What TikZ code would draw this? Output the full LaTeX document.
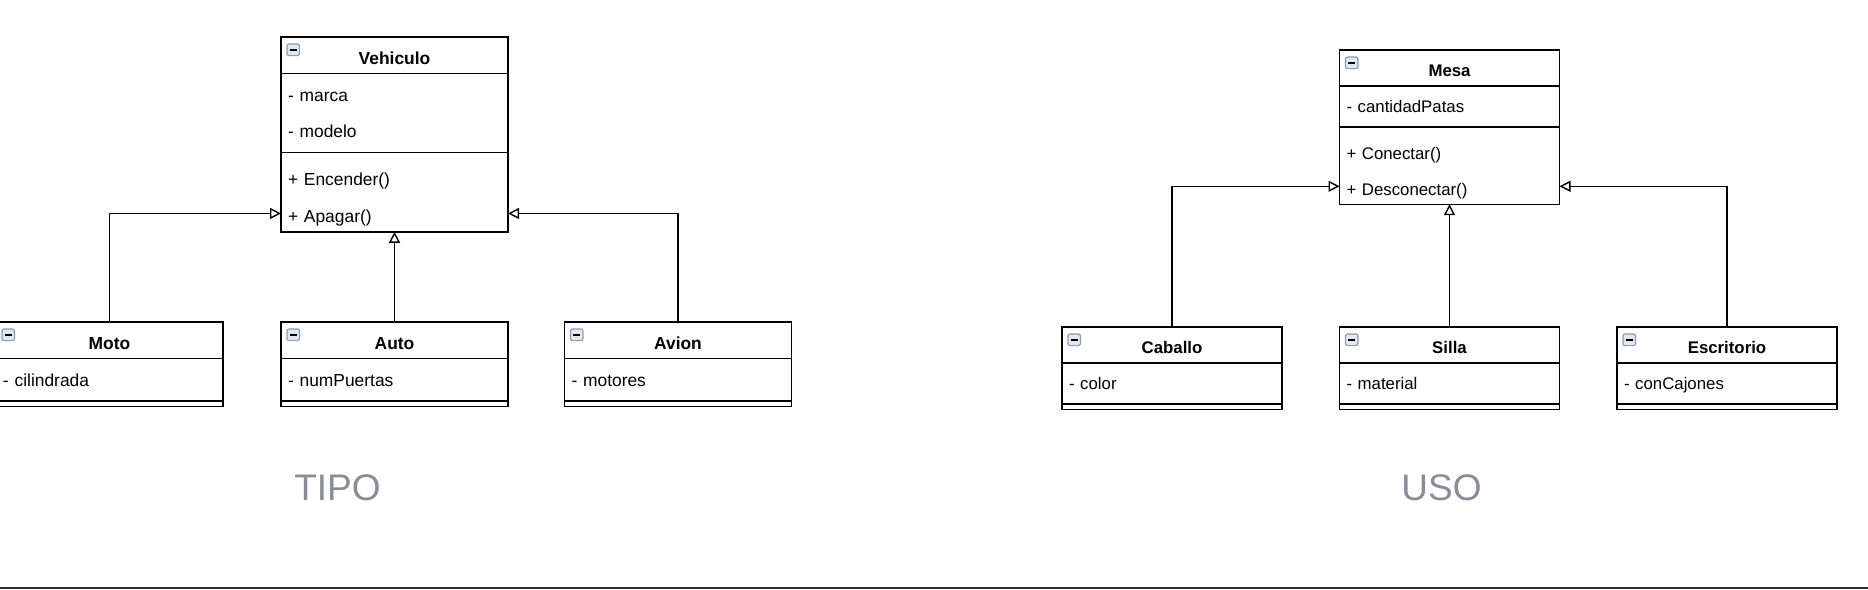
\documentclass[tikz,border=0pt]{standalone}
\usepackage{fontspec}
\setmainfont{Liberation Sans}
\usetikzlibrary{arrows.meta, positioning}
\definecolor{iconedge}{HTML}{8A9BB2}
\definecolor{iconfill}{HTML}{E3E8EF}
\definecolor{labelgray}{HTML}{8B8B99}
\definecolor{ruleline}{HTML}{2E2E2E}

\begin{document}
\begin{tikzpicture}[
        x=0.5pt, y=-0.5pt,
        line width=0.7pt,
        >={Triangle[open, length=5.5pt, width=5.5pt]},
        every node/.style={inner sep=0pt, outer sep=0pt},
        hdr/.style={draw, minimum width=\clsw, minimum height=\clsh, text height=1em, text depth=0.1em, font=\clsfont\bfseries, anchor=north},
        row/.style={minimum height=\clsh, text width=\clstw, text height=1em, text depth=0.1em, inner xsep=3.5pt, align=left, font=\clsfont},
        sepbar/.style={minimum width=\clsw, minimum height=\clss},
        icon/.style={draw=iconedge, fill=iconfill, rounded corners=1pt, line width=0.6pt, minimum width=6.2pt, minimum height=5.8pt, anchor=north west,
            path picture={\draw[black, line width=0.8pt] ([xshift=1.3pt]path picture bounding box.west) -- ([xshift=-1.3pt]path picture bounding box.east);}},
        inh/.style={->},
        lbl/.style={font=\fontsize{18.5pt}{22pt}\selectfont, text=labelgray}
    ]
    \useasboundingbox (0,0) rectangle (1868,589);

    % TIPO
    \def\clsw{113.5pt}\def\clstw{106.5pt}\def\clsh{18.35pt}\def\clss{5.65pt}
    \def\clsfont{\fontsize{8.7pt}{10pt}\selectfont}
    \node[hdr] (vehiculo) at (394.5,37) {Vehiculo};
    \node[icon] (vehIcon) at ([shift={(6,7)}]vehiculo.north west) {};
    \node[row, below=0pt of vehiculo] (vehMarca) {- marca};
    \node[row, below=0pt of vehMarca] (vehModelo) {- modelo};
    \node[sepbar, below=0pt of vehModelo] (vehSep) {};
    \node[row, below=0pt of vehSep] (vehEncender) {+ Encender()};
    \node[row, below=0pt of vehEncender] (vehApagar) {+ Apagar()};
    \draw (vehMarca.north west) rectangle (vehApagar.south east);
    \draw (vehSep.west) -- (vehSep.east);

    \node[hdr] (moto) at (109.5,322) {Moto};
    \node[icon] (motoIcon) at ([shift={(6,7)}]moto.north west) {};
    \node[row, below=0pt of moto] (motoCil) {- cilindrada};
    \node[sepbar, below=0pt of motoCil] (motoSep) {};
    \draw (motoCil.north west) rectangle (motoSep.south east);
    \draw (motoSep.west) -- (motoSep.east);

    \node[hdr] (auto) at (394.5,322) {Auto};
    \node[icon] (autoIcon) at ([shift={(6,7)}]auto.north west) {};
    \node[row, below=0pt of auto] (autoPuertas) {- numPuertas};
    \node[sepbar, below=0pt of autoPuertas] (autoSep) {};
    \draw (autoPuertas.north west) rectangle (autoSep.south east);
    \draw (autoSep.west) -- (autoSep.east);

    \node[hdr] (avion) at (678,322) {Avion};
    \node[icon] (avionIcon) at ([shift={(6,7)}]avion.north west) {};
    \node[row, below=0pt of avion] (avionMotores) {- motores};
    \node[sepbar, below=0pt of avionMotores] (avionSep) {};
    \draw (avionMotores.north west) rectangle (avionSep.south east);
    \draw (avionSep.west) -- (avionSep.east);

    \draw[inh] (moto.north) |- (vehApagar.west);
    \draw[inh] (auto.north) -- (vehApagar.south);
    \draw[inh] (avion.north) |- (vehApagar.east);

    % USO
    \def\clsw{110pt}\def\clstw{103pt}\def\clsh{17.9pt}\def\clss{5.5pt}
    \def\clsfont{\fontsize{8.4pt}{10pt}\selectfont}
    \node[hdr] (mesa) at (1449.5,50) {Mesa};
    \node[icon] (mesaIcon) at ([shift={(6,7)}]mesa.north west) {};
    \node[row, below=0pt of mesa] (mesaPatas) {- cantidadPatas};
    \node[sepbar, below=0pt of mesaPatas] (mesaSep) {};
    \node[row, below=0pt of mesaSep] (mesaConectar) {+ Conectar()};
    \node[row, below=0pt of mesaConectar] (mesaDesconectar) {+ Desconectar()};
    \draw (mesaPatas.north west) rectangle (mesaDesconectar.south east);
    \draw (mesaSep.west) -- (mesaSep.east);

    \node[hdr] (caballo) at (1172,327) {Caballo};
    \node[icon] (caballoIcon) at ([shift={(6,7)}]caballo.north west) {};
    \node[row, below=0pt of caballo] (caballoColor) {- color};
    \node[sepbar, below=0pt of caballoColor] (caballoSep) {};
    \draw (caballoColor.north west) rectangle (caballoSep.south east);
    \draw (caballoSep.west) -- (caballoSep.east);

    \node[hdr] (silla) at (1449.5,327) {Silla};
    \node[icon] (sillaIcon) at ([shift={(6,7)}]silla.north west) {};
    \node[row, below=0pt of silla] (sillaMaterial) {- material};
    \node[sepbar, below=0pt of sillaMaterial] (sillaSep) {};
    \draw (sillaMaterial.north west) rectangle (sillaSep.south east);
    \draw (sillaSep.west) -- (sillaSep.east);

    \node[hdr] (escritorio) at (1727,327) {Escritorio};
    \node[icon] (escritorioIcon) at ([shift={(6,7)}]escritorio.north west) {};
    \node[row, below=0pt of escritorio] (escritorioCajones) {- conCajones};
    \node[sepbar, below=0pt of escritorioCajones] (escritorioSep) {};
    \draw (escritorioCajones.north west) rectangle (escritorioSep.south east);
    \draw (escritorioSep.west) -- (escritorioSep.east);

    \draw[inh] (caballo.north) |- (mesaDesconectar.west);
    \draw[inh] (silla.north) -- (mesaDesconectar.south);
    \draw[inh] (escritorio.north) |- (mesaDesconectar.east);

    \node[lbl, anchor=base] (tipo) at (337.5,500.7) {TIPO};
    \node[lbl, anchor=base] (uso) at (1441.5,500.7) {USO};

    \fill[ruleline] (0,586.5) rectangle (1868,589);
\end{tikzpicture}
\end{document}
